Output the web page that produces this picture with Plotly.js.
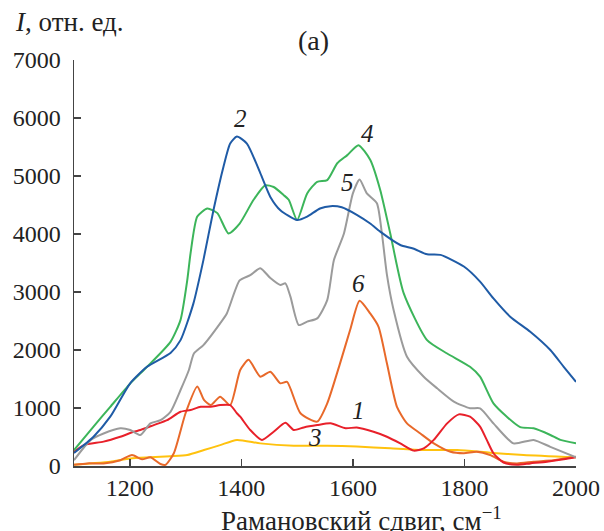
<!DOCTYPE html>
<html>
<head>
<meta charset="utf-8">
<script src="https://cdn.plot.ly/plotly-3.0.1.min.js"></script>
<style>html,body{margin:0;padding:0;background:#fff;}#chart{width:604px;height:531px;}</style>
</head>
<body>
<div id="chart"></div>
<script>
// Curve 1 (red)
const x1 = [1100,1118,1153,1183,1207,1219,1243,1267,1291,1309,1327,1345,1362,1380,1392,1398,1416,1437,1458,1479,1494,1512,1536,1560,1587,1607,1637,1661,1685,1709,1727,1745,1769,1790,1810,1828,1840,1852,1870,1894,1918,1948,1978,2000];
const y1 = [245,360,420,505,590,620,705,790,935,965,1020,1020,1050,1050,910,850,620,450,590,745,620,665,705,735,650,665,590,505,390,265,305,450,735,890,850,680,450,220,60,20,45,75,115,150];
// Curve 2 (blue)
const x2 = [1100,1135,1165,1201,1231,1273,1291,1314,1332,1350,1368,1380,1392,1410,1434,1452,1470,1500,1518,1541,1560,1580,1607,1631,1649,1685,1708,1733,1757,1799,1828,1852,1882,1918,1954,1978,2000];
const y2 = [225,505,850,1430,1710,1950,2170,2800,3550,4410,5160,5560,5680,5560,5050,4640,4410,4240,4300,4440,4480,4460,4330,4180,4040,3810,3750,3650,3640,3440,3180,2890,2575,2315,2000,1710,1450];
// Curve 3 (yellow)
const x3 = [1100,1130,1165,1201,1237,1273,1303,1333,1362,1392,1434,1494,1554,1607,1667,1727,1787,1846,1906,2000];
const y3 = [20,45,75,130,150,170,190,275,360,450,390,350,350,335,305,275,275,230,190,150];
// Curve 4 (green)
const x4 = [1100,1135,1165,1201,1231,1273,1291,1303,1309,1321,1339,1357,1377,1397,1422,1443,1458,1476,1485,1500,1518,1536,1554,1572,1590,1610,1631,1649,1667,1691,1733,1769,1810,1828,1852,1876,1900,1924,1954,1972,2000];
const y4 = [275,680,1020,1425,1710,2140,2520,3200,3670,4300,4440,4360,4010,4180,4590,4840,4810,4670,4590,4240,4700,4900,4930,5220,5360,5530,5280,4760,4010,2980,2170,1940,1710,1540,1080,850,670,650,535,450,390];
// Curve 5 (gray)
const x5 = [1100,1130,1153,1183,1201,1219,1237,1255,1273,1291,1306,1315,1332,1362,1374,1397,1416,1434,1452,1470,1479,1488,1503,1518,1536,1554,1566,1584,1600,1612,1625,1643,1652,1661,1673,1697,1727,1751,1781,1810,1828,1852,1888,1924,1954,2000];
const y5 = [100,450,560,650,620,535,735,790,935,1310,1655,1940,2085,2460,2630,3200,3290,3410,3240,3120,3150,2920,2430,2490,2545,2860,3550,4010,4700,4940,4700,4530,4010,3300,2690,1885,1540,1340,1110,995,995,735,390,450,330,150];
// Curve 6 (orange)
const x6 = [1100,1124,1153,1183,1204,1222,1237,1255,1264,1279,1300,1321,1333,1345,1362,1380,1398,1413,1434,1452,1470,1482,1506,1536,1554,1577,1595,1612,1631,1646,1661,1679,1697,1721,1745,1775,1799,1822,1846,1870,1894,1924,1960,2000];
const y6 = [20,45,45,100,190,115,150,35,20,220,910,1370,1140,1050,1195,1050,1655,1830,1540,1625,1425,1450,910,765,1080,1770,2345,2850,2630,2400,1770,1020,735,560,390,245,220,245,190,75,45,75,100,160];

const labelText = ["2","4","5","6","1","3"];
const labelX = [1398,1626,1590,1610,1610,1532];
const labelY = [6000,5740,4880,3150,950,500];

const yTicks = [0,1000,2000,3000,4000,5000,6000,7000];
const xTicks = [1200,1400,1600,1800,2000];

const FONT = 'Liberation Serif';
const TXT = '#222';

function tr(x, y, color) {
  return {x: x, y: y, type: 'scatter', mode: 'lines',
    line: {color: color, width: 2, shape: 'spline', smoothing: 0.6},
    hoverinfo: 'skip', showlegend: false};
}

const data = [
  tr(x3, y3, '#ffc20e'),
  tr(x6, y6, '#e8692a'),
  tr(x1, y1, '#e8202a'),
  tr(x5, y5, '#9b9b9b'),
  tr(x4, y4, '#3cb55a'),
  tr(x2, y2, '#1f5ba6')
];

const annotations = labelText.map((t, i) => ({
  x: labelX[i], y: labelY[i], xref: 'x', yref: 'y', xanchor: 'center', yanchor: 'middle',
  text: '<i>' + t + '</i>',
  showarrow: false, font: {family: FONT, size: 25, color: TXT}
}));
annotations.push({x: 0.477, y: 1.049, xref: 'paper', yref: 'paper', xanchor: 'center', yanchor: 'middle',
  text: '(a)', showarrow: false, font: {family: FONT, size: 28, color: TXT}});
annotations.push({x: -0.122, y: 1.094, xref: 'paper', yref: 'paper', xanchor: 'left', yanchor: 'middle',
  text: '<i>I</i>, отн. ед.', showarrow: false, font: {family: FONT, size: 27, color: TXT}});
annotations.push({x: 0.5735, y: -0.13, xref: 'paper', yref: 'paper', xanchor: 'center', yanchor: 'middle',
  text: 'Рамановский сдвиг, см<sup>−1</sup>', showarrow: false, font: {family: FONT, size: 27, color: TXT}});

const layout = {
  width: 604, height: 531,
  margin: {l: 73.5, r: 28.3, t: 60, b: 65, pad: 0},
  paper_bgcolor: '#fff', plot_bgcolor: '#fff',
  xaxis: {range: [1100, 2000], tickvals: xTicks,
    ticks: 'inside', ticklen: 7, tickcolor: '#444', tickwidth: 1.5,
    showline: true, linecolor: '#444', linewidth: 1.5, showgrid: false, zeroline: false,
    tickfont: {family: FONT, size: 24, color: TXT}},
  yaxis: {range: [0, 7000], tickvals: yTicks,
    ticks: 'inside', ticklen: 7, tickcolor: '#444', tickwidth: 1.5, ticklabelstandoff: 7,
    showline: true, linecolor: '#444', linewidth: 1.5, showgrid: false, zeroline: false,
    tickfont: {family: FONT, size: 24, color: TXT}},
  annotations: annotations
};

Plotly.newPlot('chart', data, layout, {displayModeBar: false, staticPlot: true});
</script>
</body>
</html>
